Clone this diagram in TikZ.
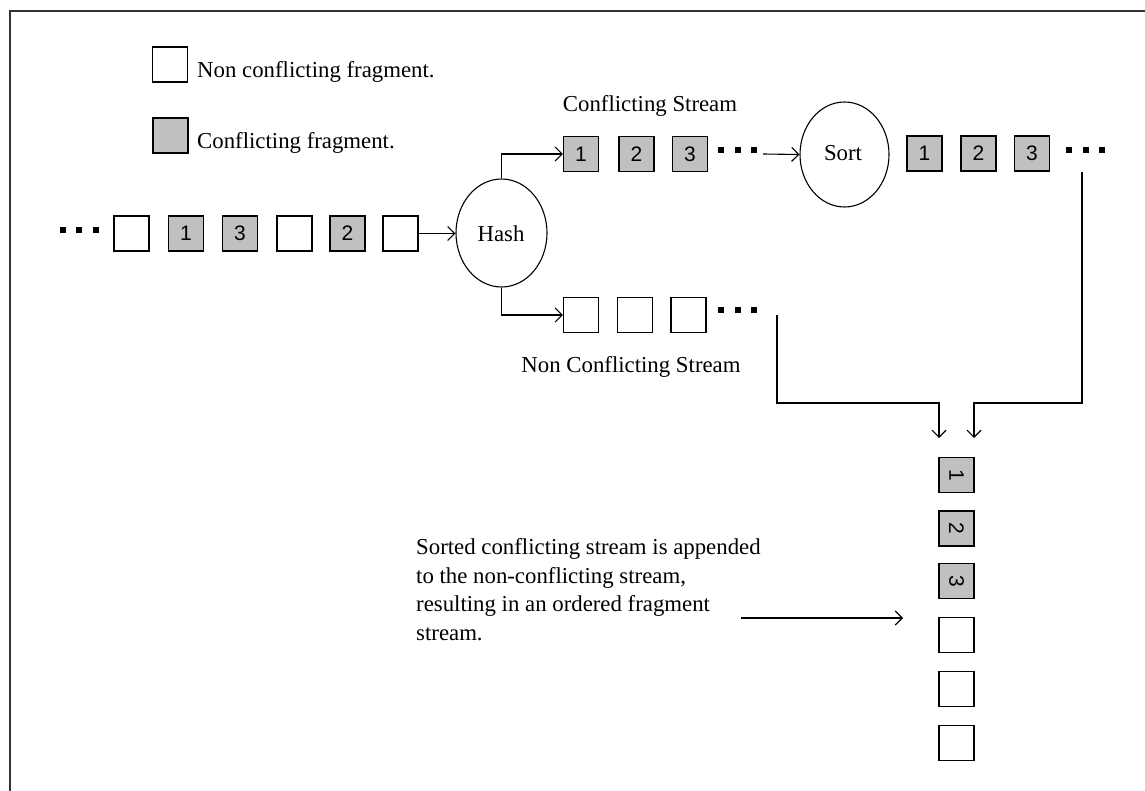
\documentclass[tikz,border=0pt]{standalone}
\usepackage{fontspec}
\setmainfont{Liberation Serif}
\newfontfamily\digitfont{Liberation Sans}
\usetikzlibrary{arrows.meta,shapes.geometric}
\definecolor{fraggray}{HTML}{C0C0C0}
\definecolor{framegray}{HTML}{333333}
\tikzset{
  frag/.style={draw, line width=1.3pt, minimum size=35pt, inner sep=0pt, fill=white,
    font=\digitfont\fontsize{21}{24}\selectfont},
  cfrag/.style={frag, fill=fraggray},
  proc/.style={draw, line width=1.1pt, ellipse, inner sep=0pt},
  lbl/.style={font=\fontsize{22.8}{27}\selectfont, inner sep=0pt},
  flow/.style={line width=1.1pt, -{Straight Barb[length=7pt,width=14pt,line width=1.1pt]}},
  dotrow/.style={inner sep=0pt, font=\fontsize{6}{6}\selectfont}
}
\newcommand{\threedots}{\rule{6pt}{6pt}\hspace{10.5pt}\rule{6pt}{6pt}\hspace{10.5pt}\rule{6pt}{6pt}}
\begin{document}
\begin{tikzpicture}[x=1pt,y=-1pt]
\useasboundingbox (0,0) rectangle (1145,791);
% frame
\draw[framegray, line width=2pt] (10,791) -- (10,11) -- (1145,11);

% legend
\node[frag]  (legw) at (170,64.5) {};
\node[cfrag] (legg) at (170.5,135.5) {};
\node[lbl, anchor=base west] (legwt) at (197,78) {Non conflicting fragment.};
\node[lbl, anchor=base west] (leggt) at (197,149) {Conflicting fragment.};

% incoming mixed stream
\node[dotrow] (indots) at (79,230.5) {\threedots};
\node[frag]  (in1) at (131.5,233.5) {};
\node[cfrag] (in2) at (186,233.5) {1};
\node[cfrag] (in3) at (240,233.5) {3};
\node[frag]  (in4) at (294.5,233.5) {};
\node[cfrag] (in5) at (347.5,233.5) {2};
\node[frag]  (in6) at (400.5,233.5) {};

% hash
\node[proc, minimum width=91pt, minimum height=108pt] (hash) at (501.5,233) {};
\node[lbl, anchor=base] (hasht) at (501,242) {Hash};

% conflicting stream
\node[lbl, anchor=base] (cst) at (650,112) {Conflicting Stream};
\node[cfrag] (c1) at (581,154) {1};
\node[cfrag] (c2) at (636.5,154) {2};
\node[cfrag] (c3) at (690,154) {3};
\node[dotrow] (cdots) at (737.5,150) {\threedots};
\coordinate (cout) at (763,154);

% non conflicting stream
\node[frag] (n1) at (581,315) {};
\node[frag] (n2) at (635,315) {};
\node[frag] (n3) at (688.5,315) {};
\node[dotrow] (ndots) at (737.5,310) {\threedots};
\node[lbl, anchor=base] (nst) at (631,372) {Non Conflicting Stream};

% sort
\node[proc, minimum width=89pt, minimum height=105pt] (sort) at (844.5,154.5) {};
\node[lbl, anchor=base] (sortt) at (843,160.5) {Sort};
\node[cfrag] (s1) at (924.5,153.5) {1};
\node[cfrag] (s2) at (978.5,153.5) {2};
\node[cfrag] (s3) at (1032,153.5) {3};
\node[dotrow] (sdots) at (1085.5,150) {\threedots};

% merged output column
\node[cfrag, rotate=-90] (o1) at (956.5,475) {1};
\node[cfrag, rotate=-90] (o2) at (956.5,528.5) {2};
\node[cfrag, rotate=-90] (o3) at (956.5,581) {3};
\node[frag] (o4) at (956.5,635) {};
\node[frag] (o5) at (956.5,689) {};
\node[frag] (o6) at (956.5,743) {};

% connectors
\draw[flow] (in6.east) -- (hash.west |- in6.east);
\draw[flow] (hash.north) |- (c1.west);
\draw[flow] (hash.south) |- (n1.west);
\draw[flow] (cout) -- (sort.west);

\coordinate (nstart) at (777,315);
\coordinate (njoin) at (939,403);
\coordinate (nend) at (939,438);
\coordinate (sstart) at (1082,172);
\coordinate (sjoin) at (974,403);
\coordinate (send) at (974,438);
\draw[flow] (nstart) |- (njoin) -- (nend);
\draw[flow] (sstart) |- (sjoin) -- (send);

% note (base anchor sits on the last line)
\node[lbl, anchor=base west, align=left, font=\fontsize{22.8}{28.5}\selectfont] (note) at (416,640)
  {Sorted conflicting stream is appended\\to the non-conflicting stream,\\resulting in an ordered fragment\\stream.};
\coordinate (nfrom) at (741,618);
\coordinate (nto) at (903,618);
\draw[flow] (nfrom) -- (nto);
\end{tikzpicture}
\end{document}
